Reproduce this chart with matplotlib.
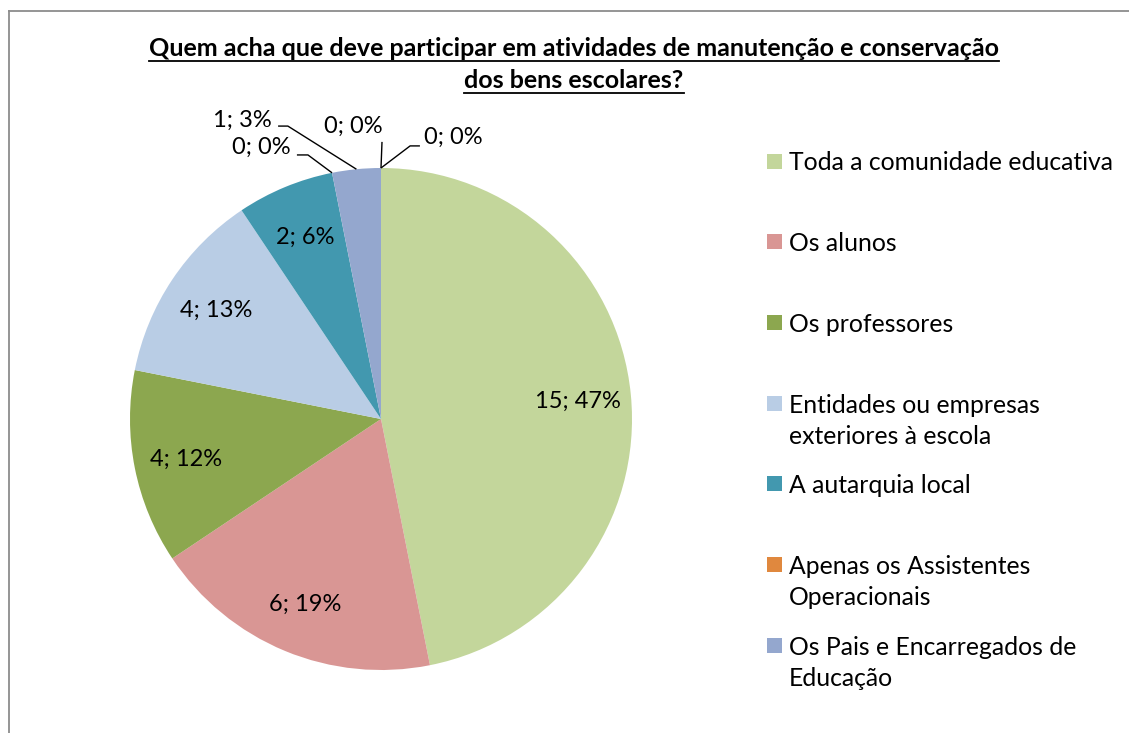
import matplotlib
matplotlib.use("Agg")
import matplotlib.pyplot as plt
import numpy as np
from matplotlib.patches import Rectangle
from matplotlib.lines import Line2D

# ---------------- data ----------------
title_lines = ["Quem acha que deve participar em atividades de manutenção e conservação",
               "dos bens escolares?"]
legend_labels = ["Toda a comunidade educativa",
                 "Os alunos",
                 "Os professores",
                 "Entidades ou empresas\nexteriores à escola",
                 "A autarquia local",
                 "Apenas os Assistentes\nOperacionais",
                 "Os Pais e Encarregados de\nEducação"]
values = [15, 6, 4, 4, 2, 0, 1, 0, 0]
percents = [47, 19, 12, 13, 6, 0, 3, 0, 0]
colors = ["#C3D69B", "#D99694", "#8CA74F", "#B9CDE5", "#4298AF",
          "#E0883E", "#94A7CE", "#B2A1C7", "#FAC090"]

# ---------------- layout ----------------
W, H = 1129, 733
DPI = 100
FONT = "Lato"
fig = plt.figure(figsize=(W / DPI, H / DPI), dpi=DPI)
fig.patch.set_facecolor("white")

def fx(px):
    return px / W

def fy(py):
    return 1 - py / H

# outer frame (left and top edges visible)
fig.add_artist(Line2D([fx(8.5), fx(8.5)], [fy(10.5), fy(740)], color="#8C8C8C", lw=1.3,
                      transform=fig.transFigure))
fig.add_artist(Line2D([fx(8.5), fx(1140)], [fy(10.5), fy(10.5)], color="#8C8C8C", lw=1.3,
                      transform=fig.transFigure))

# pie axes
cx, cy, R = 381, 419, 251
ax = fig.add_axes([fx(cx - R), fy(cy + R), 2 * R / W, 2 * R / H])

wedges, _ = ax.pie(values, colors=colors, startangle=90, counterclock=False, radius=1,
                   wedgeprops=dict(linewidth=0))
ax.set_aspect("auto")
ax.set_xlim(-1, 1)
ax.set_ylim(-1, 1)
ax.axis("off")

lab_fs = 17
for i, w in enumerate(wedges):
    mid = np.deg2rad((w.theta1 + w.theta2) / 2)
    txt = f"{values[i]}; {percents[i]}%"
    if percents[i] >= 5:
        r = 0.79
        ax.text(r * np.cos(mid), r * np.sin(mid), txt, ha="center", va="center_baseline",
                fontsize=lab_fs, family=FONT, color="black")

# outside labels for small slices: (text center, leader start/elbow, anchor mode)
outside = {
    5: ((-0.478, 1.084), [(-0.335, 1.052), (-0.291, 1.052)], "edge"),
    6: ((-0.552, 1.191), [(-0.410, 1.167), (-0.371, 1.167)], "mid"),
    7: ((-0.112, 1.167), [(0.004, 1.104)], "mid"),
    8: ((0.289, 1.121), [(0.155, 1.088), (0.116, 1.088)], "mid"),
}
for i, (pos, pts, mode) in outside.items():
    w = wedges[i]
    ang = np.deg2rad(w.theta2 if mode == "edge" else (w.theta1 + w.theta2) / 2)
    anchor = (np.cos(ang), np.sin(ang))
    xs = [p[0] for p in pts] + [anchor[0]]
    ys = [p[1] for p in pts] + [anchor[1]]
    ax.plot(xs, ys, color="black", lw=1.0, clip_on=False, solid_capstyle="butt")
    ax.text(pos[0], pos[1], f"{values[i]}; {percents[i]}%", ha="center", va="center",
            fontsize=lab_fs, family=FONT, color="black", clip_on=False)

# legend (manual, Excel-like even spacing)
leg_y0 = 161
leg_dy = 80.7
line_dy = 31
sq = 15
leg_fs = 17.8
for i, lab in enumerate(legend_labels):
    yc = leg_y0 + i * leg_dy
    fig.add_artist(Rectangle((fx(767), fy(yc + sq / 2)), sq / W, sq / H,
                             facecolor=colors[i], edgecolor="none", transform=fig.transFigure))
    for j, line in enumerate(lab.split("\n")):
        fig.text(fx(789), fy(yc + j * line_dy), line, ha="left", va="center_baseline",
                 fontsize=leg_fs, family=FONT, color="black")

# title with underline
title_fs = 18
baselines = [56, 88.5]
tobjs = []
for line, b in zip(title_lines, baselines):
    t = fig.text(fx(574), fy(b), line, ha="center", va="baseline", fontsize=title_fs,
                 family=FONT, fontweight="bold", color="black")
    tobjs.append((t, b))
fig.canvas.draw()
r = fig.canvas.get_renderer()
for t, b in tobjs:
    bb = t.get_window_extent(r)
    fig.add_artist(Line2D([bb.x0 / W, bb.x1 / W], [fy(b + 4.5), fy(b + 4.5)], color="black",
                          lw=1.3, transform=fig.transFigure))

fig.savefig("out.png", dpi=DPI, facecolor="white")
